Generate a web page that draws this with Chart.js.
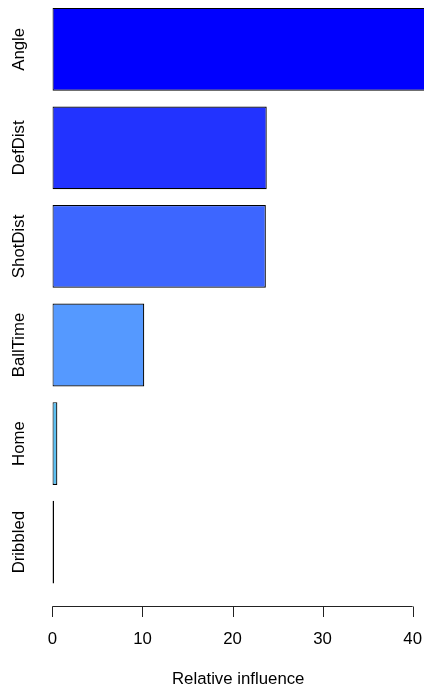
<!DOCTYPE html>
<html>
<head>
<meta charset="utf-8">
<script src="https://cdn.jsdelivr.net/npm/chart.js@4"></script>
<style>
  html, body { margin: 0; padding: 0; background: #ffffff; }
  #wrap { width: 424px; height: 690px; }
</style>
</head>
<body>
<div id="wrap"><canvas id="c" width="424" height="690"></canvas></div>
<script>
// ---- data ----
const categories = ["Angle", "DefDist", "ShotDist", "BallTime", "Home", "Dribbled"];
const influence = [41.4, 23.8, 23.7, 10.2, 0.55, 0];
const xTicks = [0, 10, 20, 30, 40];
const xTitle = "Relative influence";

// ---- styles ----
const barColors = ["#0000ff", "#2233ff", "#3d66ff", "#5599ff", "#5cbff0", "#66ddee"];
const FONT = '16.8px "Liberation Sans", Arial, Helvetica, sans-serif';

const rAxes = {
  id: 'rAxes',
  afterDraw(chart) {
    const ctx = chart.ctx;
    const xs = chart.scales.x, ys = chart.scales.y;
    const area = chart.chartArea;
    ctx.save();
    ctx.fillStyle = '#000';
    ctx.font = FONT;
    // y labels rotated
    categories.forEach((c, i) => {
      const y = ys.getPixelForValue(i);
      ctx.save();
      ctx.translate(23.5, y);
      ctx.rotate(-Math.PI / 2);
      ctx.textAlign = 'center';
      ctx.textBaseline = 'alphabetic';
      ctx.fillText(c, 0, 0);
      ctx.restore();
    });
    // x axis
    const axY = 606.5;
    ctx.strokeStyle = '#222';
    ctx.lineWidth = 1;
    ctx.beginPath();
    ctx.moveTo(xs.getPixelForValue(xTicks[0]), axY);
    ctx.lineTo(xs.getPixelForValue(xTicks[xTicks.length - 1]), axY);
    xTicks.forEach(t => {
      const x = Math.round(xs.getPixelForValue(t)) + 0.5;
      ctx.moveTo(x, axY);
      ctx.lineTo(x, 617);
    });
    ctx.stroke();
    ctx.textAlign = 'center';
    ctx.textBaseline = 'alphabetic';
    xTicks.forEach(t => {
      ctx.fillText(String(t), xs.getPixelForValue(t), 643.5);
    });
    ctx.fillText(xTitle, (area.left + area.right) / 2, 684);
    ctx.restore();
  }
};

new Chart(document.getElementById('c'), {
  type: 'bar',
  data: {
    labels: categories,
    datasets: [{
      data: influence,
      backgroundColor: barColors,
      borderColor: '#000',
      borderWidth: 1.2,
      borderSkipped: false,
      minBarLength: 1.6,
      barPercentage: 0.84,
      categoryPercentage: 1.0
    }]
  },
  options: {
    indexAxis: 'y',
    responsive: false,
    animation: false,
    devicePixelRatio: 1,
    layout: { padding: { left: 52.4, right: 0, top: 0, bottom: 98.6 } },
    scales: {
      x: { type: 'linear', min: 0, max: 41.26, display: false },
      y: { type: 'category', display: false, offset: true }
    },
    plugins: { legend: { display: false }, tooltip: { enabled: false } }
  },
  plugins: [rAxes]
});
</script>
</body>
</html>
